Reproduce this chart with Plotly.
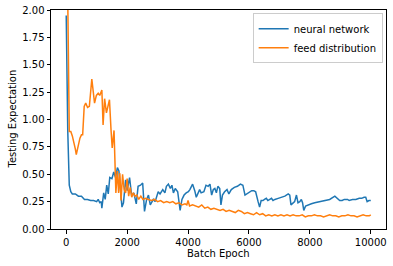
import plotly.graph_objects as go

nn_x = [0, 50, 100, 150, 200, 300, 400, 500, 600, 700, 800, 900, 1000, 1050, 1100, 1150, 1170,
        1230, 1280, 1330, 1380, 1430, 1500, 1560, 1620, 1680, 1730, 1780, 1830, 1880, 1950,
        2000, 2080, 2150, 2220, 2300, 2360, 2440, 2510, 2570, 2640, 2700, 2760, 2860, 2920,
        3020, 3080, 3170, 3240, 3290, 3355, 3420, 3470, 3520, 3580, 3660, 3740, 3800, 3870,
        3940, 4010, 4060, 4150, 4220, 4270, 4380, 4430, 4520, 4590, 4660, 4720, 4775, 4830,
        4880, 4930, 4980, 5040, 5080, 5130, 5200, 5280, 5340, 5420, 5520, 5620, 5720, 5800,
        5870, 5930, 6010, 6090, 6160, 6220, 6300, 6350, 6400, 6460, 6510, 6570, 6620, 6680,
        6740, 6790, 6850, 6960, 7070, 7180, 7290, 7340, 7380, 7450, 7500, 7560, 7610, 7670,
        7720, 7760, 7800, 7860, 7940, 8050, 8160, 8320, 8480, 8650, 8820, 8870, 8980, 9060,
        9130, 9240, 9290, 9400, 9510, 9620, 9700, 9780, 9835, 9880, 9940, 10000]
nn_y = [1.95, 0.90, 0.40, 0.34, 0.32, 0.32, 0.30, 0.30, 0.27, 0.27, 0.26, 0.26, 0.25, 0.27, 0.24, 0.25, 0.19,
        0.33, 0.27, 0.40, 0.32, 0.47, 0.46, 0.52, 0.47, 0.56, 0.53, 0.38, 0.20, 0.24, 0.45,
        0.35, 0.47, 0.30, 0.33, 0.23, 0.39, 0.40, 0.42, 0.16, 0.27, 0.31, 0.22, 0.27, 0.25,
        0.34, 0.32, 0.36, 0.33, 0.39, 0.41, 0.37, 0.40, 0.33, 0.37, 0.34, 0.17, 0.27, 0.31,
        0.33, 0.34, 0.36, 0.41, 0.35, 0.29, 0.36, 0.33, 0.34, 0.40, 0.39, 0.41, 0.31, 0.36,
        0.37, 0.33, 0.39, 0.37, 0.22, 0.31, 0.34, 0.36, 0.32, 0.36, 0.38, 0.39, 0.41, 0.40,
        0.31, 0.32, 0.34, 0.35, 0.35, 0.34, 0.25, 0.20, 0.26, 0.26, 0.27, 0.28, 0.26, 0.27,
        0.28, 0.26, 0.27, 0.28, 0.29, 0.30, 0.32, 0.31, 0.22, 0.24, 0.25, 0.31, 0.24, 0.25,
        0.27, 0.24, 0.17, 0.21, 0.22, 0.23, 0.24, 0.25, 0.26, 0.27, 0.30, 0.29, 0.26, 0.26,
        0.27, 0.27, 0.26, 0.27, 0.27, 0.28, 0.28, 0.29, 0.29, 0.25, 0.26, 0.26]

fd_x = [0, 50, 100, 150, 200, 250, 300, 330, 400, 450, 500, 540, 590, 640, 700, 760, 840, 880,
        930, 990, 1050, 1100, 1170, 1210, 1260, 1320, 1420, 1470, 1510, 1570, 1630, 1680, 1720,
        1760, 1800, 1850, 1900, 1950, 2000, 2050, 2100, 2150, 2200, 2260, 2320, 2380, 2450,
        2520, 2600, 2700, 2800, 2900, 3000, 3100, 3200, 3300, 3400, 3500, 3600, 3700, 3800,
        3900, 3960, 4000, 4050, 4150, 4250, 4350, 4450, 4550, 4650, 4750, 4850, 4950, 5050,
        5150, 5250, 5350, 5450, 5550, 5650, 5750, 5850, 5950, 6050, 6150, 6250, 6350, 6450,
        6550, 6650, 6750, 6850, 6950, 7050, 7150, 7250, 7350, 7450, 7550, 7650, 7750, 7850,
        7950, 8050, 8150, 8250, 8350, 8450, 8550, 8650, 8750, 8850, 8950, 9050, 9150, 9250,
        9350, 9450, 9550, 9650, 9750, 9850, 9950, 10000]
fd_y = [2.30, 2.10, 0.89, 0.89, 0.85, 0.80, 0.73, 0.68, 0.78, 0.83, 0.86, 0.86, 1.12, 1.15, 1.11, 1.12, 1.37, 1.24,
        1.15, 1.22, 1.24, 1.22, 1.27, 0.95, 1.19, 1.06, 1.18, 0.91, 0.74, 0.90, 0.33, 0.53, 0.33,
        0.51, 0.26, 0.50, 0.36, 0.33, 0.46, 0.30, 0.38, 0.29, 0.33, 0.30, 0.31, 0.27, 0.30,
        0.27, 0.28, 0.27, 0.26, 0.27, 0.25, 0.26, 0.24, 0.25, 0.24, 0.25, 0.23, 0.24, 0.22,
        0.23, 0.22, 0.26, 0.21, 0.22, 0.21, 0.20, 0.22, 0.19, 0.20, 0.18, 0.19, 0.18, 0.17,
        0.18, 0.16, 0.17, 0.16, 0.15, 0.17, 0.16, 0.14, 0.15, 0.14, 0.13, 0.15, 0.13, 0.14,
        0.12, 0.13, 0.12, 0.13, 0.12, 0.13, 0.12, 0.13, 0.12, 0.13, 0.12, 0.12, 0.13, 0.11,
        0.12, 0.12, 0.13, 0.12, 0.12, 0.11, 0.12, 0.13, 0.12, 0.12, 0.11, 0.12, 0.12, 0.13,
        0.12, 0.12, 0.11, 0.12, 0.13, 0.12, 0.12, 0.13]

x_ticks = [0, 2000, 4000, 6000, 8000, 10000]
y_ticks = [0.0, 0.25, 0.5, 0.75, 1.0, 1.25, 1.5, 1.75, 2.0]

fig = go.Figure()
fig.add_trace(go.Scatter(x=nn_x, y=nn_y, mode="lines", name="neural network",
                         line=dict(color="#1f77b4", width=1.5)))
fig.add_trace(go.Scatter(x=fd_x, y=fd_y, mode="lines", name="feed distribution",
                         line=dict(color="#ff7f0e", width=1.5)))

axis_common = dict(showline=True, linecolor="black", linewidth=1, mirror=True,
                   ticks="outside", ticklen=3.5, tickwidth=1, tickcolor="black",
                   showgrid=False, zeroline=False, automargin=False,
                   tickfont=dict(family="DejaVu Sans", size=10, color="black"))

fig.update_layout(
    width=393, height=266,
    margin=dict(l=51, r=7, t=10, b=37),
    paper_bgcolor="white", plot_bgcolor="white",
    font=dict(family="DejaVu Sans", size=10, color="black"),
    xaxis=dict(range=[-500, 10500], tickvals=x_ticks,
               ticktext=[str(v) for v in x_ticks], **axis_common),
    yaxis=dict(range=[0, 2.0], tickvals=y_ticks,
               ticktext=[f"{v:.2f}" for v in y_ticks], **axis_common),
    annotations=[
        dict(text="Batch Epoch", xref="paper", yref="paper", x=0.5, y=0,
             xanchor="center", yanchor="middle", yshift=-24, showarrow=False,
             font=dict(family="DejaVu Sans", size=10, color="black")),
        dict(text="Testing Expectation", xref="paper", yref="paper", x=0, y=0.5,
             xanchor="center", yanchor="middle", xshift=-39, textangle=-90,
             showarrow=False, font=dict(family="DejaVu Sans", size=10, color="black")),
    ],
    legend=dict(x=0.99, y=0.985, xanchor="right", yanchor="top",
                bgcolor="rgba(255,255,255,0.8)", bordercolor="#cccccc", borderwidth=1,
                font=dict(family="DejaVu Sans", size=10), tracegroupgap=0,
                itemwidth=30),
    showlegend=True,
)

fig.write_html("out.html", config={"displayModeBar": False},
               post_script="document.body.style.margin='0';document.body.style.padding='0';")
